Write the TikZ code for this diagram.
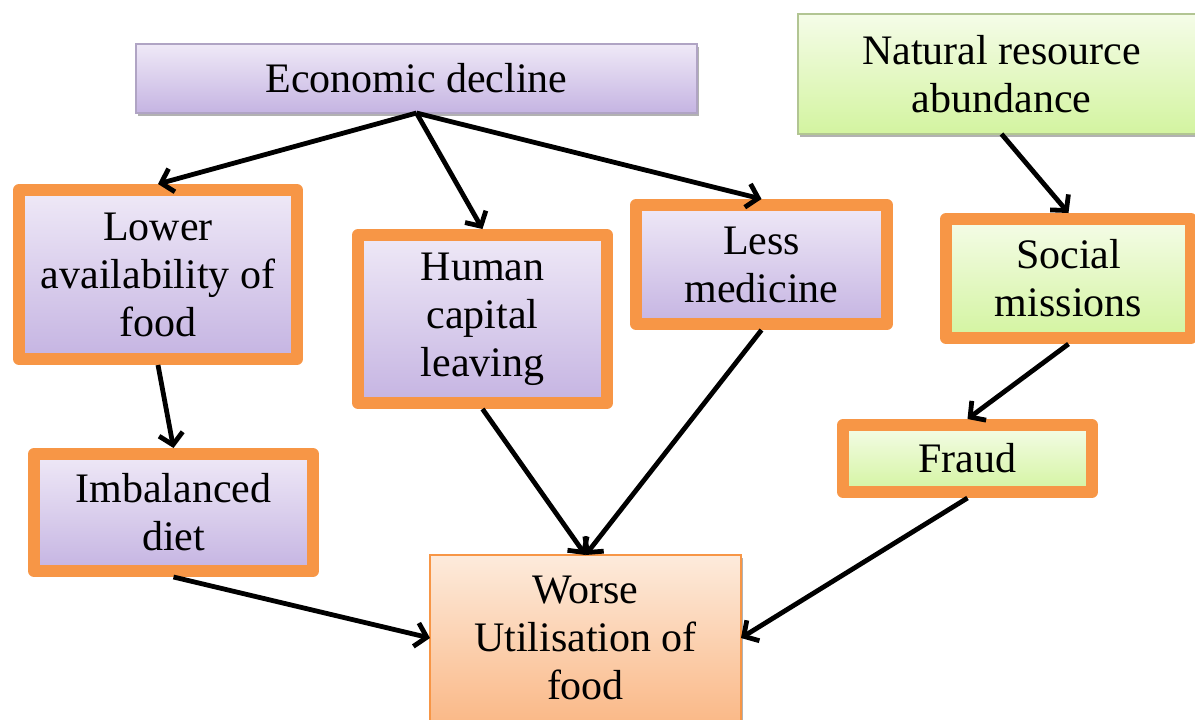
\documentclass[tikz,border=0pt]{standalone}
\usepackage{fontspec}
\setmainfont{Liberation Serif}
\usetikzlibrary{arrows.meta,shadows}

\definecolor{lavtop}{HTML}{EFE9F7}
\definecolor{lavbot}{HTML}{C5B4E2}
\definecolor{limetop}{HTML}{F5FCE8}
\definecolor{limebot}{HTML}{D3F4A0}
\definecolor{peachtop}{HTML}{FDEBDC}
\definecolor{peachbot}{HTML}{FAB988}
\definecolor{frameorange}{HTML}{F79646}

\tikzset{
  boxtext/.style={align=center, inner sep=0pt, font=\fontsize{21}{24}\selectfont, text=black},
  softshadow/.style={drop shadow={shadow xshift=1.2pt, shadow yshift=-1.5pt, opacity=0.3, fill=black}},
  framedbox/.style={boxtext, draw=frameorange, line width=6pt, line join=round,
    outer sep=3pt, softshadow},
  lavender/.style={top color=lavtop, bottom color=lavbot},
  lime/.style={top color=limetop, bottom color=limebot},
  plainbox/.style={boxtext, line width=0.8pt, outer sep=0pt, softshadow},
  link/.style={line width=2.4pt, -{Straight Barb[length=5.5pt, width=12pt]}, black}
}

\begin{document}
\begin{tikzpicture}[x=0.5pt, y=-0.5pt]
  \useasboundingbox (0,0) rectangle (1195,719);
  \clip (0,0) rectangle (1195,719);

  % top row
  \node[plainbox, lavender, draw=lavbot!70!gray, minimum width=280.5pt, minimum height=34.5pt]
    (econ) at (416.5,78.5) {Economic decline};
  \node[plainbox, lime, draw=limebot!60!gray, minimum width=203.5pt, minimum height=60pt]
    (nature) at (1001.5,74) {Natural resource\\abundance};

  % second row
  \node[framedbox, lavender, minimum width=139pt, minimum height=84.5pt]
    (lower) at (158,274.5) {Lower\\availability of\\food};
  \node[framedbox, lavender, minimum width=124.5pt, minimum height=84pt]
    (human) at (482.5,319) {Human\\capital\\leaving};
  \node[framedbox, lavender, minimum width=125.5pt, minimum height=59.5pt]
    (medicine) at (761.5,264.5) {Less\\medicine};
  \node[framedbox, lime, minimum width=122.5pt, minimum height=59.5pt]
    (social) at (1068.5,278.5) {Social\\missions};

  % third row
  \node[framedbox, lavender, minimum width=139.5pt, minimum height=58.5pt]
    (diet) at (173.5,512.5) {Imbalanced\\diet};
  \node[framedbox, lime, minimum width=124.5pt, minimum height=33.5pt]
    (fraud) at (967.5,458.5) {Fraud};

  % outcome
  \node[plainbox, top color=peachtop, bottom color=peachbot, draw=frameorange,
        minimum width=155.5pt, minimum height=83pt]
    (worse) at (585.5,638) {Worse\\Utilisation of\\food};

  % causal links
  \draw[link] (econ.south) -- (lower.north);
  \draw[link] (econ.south) -- (human.north);
  \draw[link] (econ.south) -- (medicine.north);
  \draw[link] (nature.south) -- (social.north);
  \draw[link] (lower.south) -- (diet.north);
  \draw[link] (human.south) -- (worse.north);
  \draw[link] (medicine.south) -- (worse.north);
  \draw[link] (social.south) -- (fraud.north);
  \draw[link] (diet.south) -- (worse.west);
  \draw[link] (fraud.south) -- (worse.east);
\end{tikzpicture}
\end{document}
